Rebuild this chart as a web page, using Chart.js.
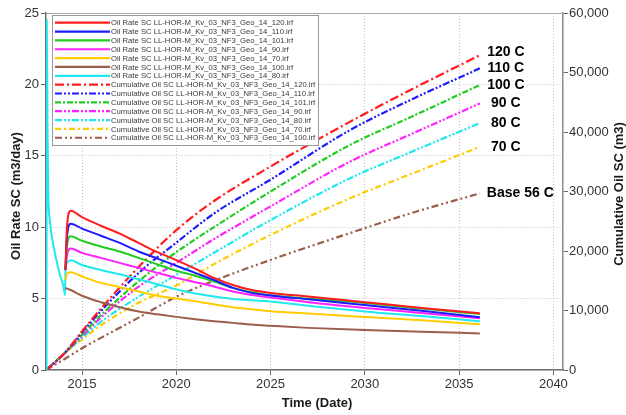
<!DOCTYPE html>
<html>
<head>
<meta charset="utf-8">
<title>Oil rate and cumulative oil by temperature case</title>
<style>
  html, body { margin: 0; padding: 0; background: #ffffff; }
  #wrap { width: 626px; height: 415px; position: relative; }
</style>
<script src="https://cdn.jsdelivr.net/npm/chart.js@4.4.1/dist/chart.umd.min.js"></script>
</head>
<body>
<div id="wrap"><canvas id="chart" width="626" height="415"></canvas></div>
<script>
// ---- Oil rate SC (m3/day) ----
// time steps (decimal years) shared by the rate curves after the 2014 restart
const rateYears = [2014.12, 2014.2, 2014.4, 2015, 2016, 2017, 2018, 2019, 2020, 2021, 2022, 2023, 2024, 2025, 2027, 2030, 2033, 2036.1];
const rate120 = [7.0, 10.0, 11.15, 10.7, 10.1, 9.55, 8.9, 8.25, 7.7, 7.1, 6.45, 5.95, 5.6, 5.4, 5.15, 4.75, 4.35, 3.98];
const rate110 = [7.0, 9.3, 10.25, 9.9, 9.4, 8.9, 8.3, 7.8, 7.3, 6.8, 6.3, 5.75, 5.4, 5.22, 4.95, 4.55, 4.15, 3.7];
const rate101 = [7.0, 8.7, 9.37, 9.05, 8.65, 8.3, 7.85, 7.4, 6.95, 6.6, 6.2, 5.75, 5.45, 5.24, 5.0, 4.7, 4.3, 3.92];
const rate90  = [7.0, 8.0, 8.5, 8.2, 7.85, 7.5, 7.15, 6.8, 6.45, 6.15, 5.85, 5.5, 5.25, 5.08, 4.75, 4.35, 4.0, 3.62];
const rate70  = [6.3, 6.75, 6.85, 6.55, 6.1, 5.8, 5.5, 5.2, 5.0, 4.82, 4.6, 4.4, 4.25, 4.12, 3.95, 3.72, 3.48, 3.2];
const rate100 = [5.75, 5.7, 5.6, 5.2, 4.75, 4.4, 4.1, 3.9, 3.72, 3.56, 3.42, 3.3, 3.18, 3.1, 2.95, 2.8, 2.68, 2.56];
const rate80  = [7.0, 7.5, 7.69, 7.35, 7.0, 6.7, 6.35, 6.0, 5.65, 5.35, 5.15, 4.98, 4.88, 4.8, 4.5, 4.1, 3.78, 3.42];
// initial flush period of the 80 case before the restart
const earlyYears80 = [2013.12, 2013.13, 2013.17, 2013.21, 2013.3, 2013.48, 2013.66, 2013.83, 2014.0, 2014.1];
const earlyRate80  = [0, 24.5, 17.0, 12.5, 10.4, 8.75, 7.6, 6.65, 5.95, 5.25];

// ---- Cumulative oil SC (m3) ----
const cumYears = [2013.1, 2014.1, 2015, 2016, 2018, 2020, 2022, 2025, 2029.2, 2032.5, 2036.1];
const cum120 = [0, 2900, 6500, 10300, 17300, 23500, 28400, 34200, 41700, 47200, 52900];
const cum110 = [0, 2900, 6300, 9900, 16300, 21400, 26300, 32000, 40300, 45500, 50700];
const cum101 = [0, 2900, 5900, 9200, 14900, 19800, 24000, 30000, 37800, 42600, 47900];
const cum90  = [0, 2900, 5700, 8800, 14000, 18000, 22000, 27500, 35000, 39700, 44800];
const cum80  = [0, 2900, 5400, 8100, 12300, 16000, 19700, 25200, 32200, 36700, 41500];
const cum70  = [0, 2900, 5100, 7500, 11300, 14200, 17800, 22700, 28850, 33000, 37500];
const cum100 = [0, 1900, 3650, 5400, 8800, 12300, 15000, 18500, 23000, 26400, 29700];

// ---- ticks and labels ----
const yearTicks = [2015, 2020, 2025, 2030, 2035, 2040];
const rateTicks = [0, 5, 10, 15, 20, 25];
const cumTicks = [0, 10000, 20000, 30000, 40000, 50000, 60000];
const cumEndLabels = ['120 C', '110 C', '100 C', '90 C', '80 C', '70 C', 'Base 56 C'];

const FONT = '"Liberation Sans", Arial, Helvetica, sans-serif';
const COLORS = {
  '120': '#ff1c1c', '110': '#1c1cff', '101': '#22cc22', '90': '#ff22ff',
  '70': '#ffcc00', '100': '#9a5e4a', '80': '#22e8ee'
};
const RATE_PREFIX = 'Oil Rate SC LL-HOR-M_Kv_03_NF3_Geo_14_';
const CUM_PREFIX = 'Cumulative Oil SC LL-HOR-M_Kv_03_NF3_Geo_14_';

function pts(xs, ys) { return xs.map((x, i) => ({ x: x, y: ys[i] })); }

const rateSeries = [
  ['120', rateYears, rate120],
  ['110', rateYears, rate110],
  ['101', rateYears, rate101],
  ['90', rateYears, rate90],
  ['70', rateYears, rate70],
  ['100', rateYears, rate100],
  ['80', earlyYears80.concat(rateYears), earlyRate80.concat(rate80)]
];
const cumSeries = [
  ['120', cum120, [9, 3, 2, 3]],
  ['110', cum110, [7, 2, 2, 2, 2, 2]],
  ['101', cum101, [6, 2, 2, 2]],
  ['90', cum90, [7, 2, 2, 2, 2, 2]],
  ['80', cum80, [7, 2, 2, 2, 2, 2]],
  ['70', cum70, [6, 3, 2, 3]],
  ['100', cum100, [7, 3, 2, 3, 2, 3]]
];

const datasets = [];
rateSeries.forEach(([id, xs, ys]) => {
  datasets.push({
    label: RATE_PREFIX + id + '.irf',
    data: pts(xs, ys),
    yAxisID: 'y',
    borderColor: COLORS[id],
    borderWidth: 2,
    borderDash: [],
    pointRadius: 0,
    cubicInterpolationMode: 'monotone',
    fill: false
  });
});
cumSeries.forEach(([id, ys, dash]) => {
  datasets.push({
    label: CUM_PREFIX + id + '.irf',
    data: pts(cumYears, ys),
    yAxisID: 'y1',
    borderColor: COLORS[id],
    borderWidth: 2.2,
    borderDash: dash,
    pointRadius: 0,
    cubicInterpolationMode: 'monotone',
    fill: false,
    isCumulative: true
  });
});

// legend box inside the plot, frame line, axis titles and case labels
const decorations = {
  id: 'decorations',
  afterDatasetsDraw(chart) {
    const ctx = chart.ctx;
    const a = chart.chartArea;
    ctx.save();

    // top frame line
    ctx.strokeStyle = '#a8a8a8';
    ctx.lineWidth = 1;
    ctx.beginPath();
    ctx.moveTo(a.left, a.top + 0.5);
    ctx.lineTo(a.right, a.top + 0.5);
    ctx.stroke();

    // case labels at the end of each cumulative curve
    ctx.fillStyle = '#000';
    ctx.font = 'bold 14px ' + FONT;
    ctx.textBaseline = 'middle';
    let k = 0;
    chart.data.datasets.forEach((ds, i) => {
      if (!ds.isCumulative) return;
      const pts = chart.getDatasetMeta(i).data;
      const end = pts[pts.length - 1];
      const text = cumEndLabels[k++];
      if (text.indexOf('Base') === 0) {
        ctx.textAlign = 'left';
        ctx.fillText(text, end.x + 7, end.y);
      } else {
        ctx.textAlign = 'center';
        ctx.fillText(text, end.x + 26, k === 1 ? end.y - 3 : end.y);
      }
    });

    // legend
    const lx = a.left + 6, ly = a.top + 2, lw = 266, lh = 130;
    ctx.fillStyle = '#ffffff';
    ctx.fillRect(lx, ly, lw, lh);
    ctx.strokeStyle = '#9a9a9a';
    ctx.lineWidth = 1;
    ctx.strokeRect(lx + 0.5, ly + 0.5, lw, lh);
    ctx.font = '7.7px ' + FONT;
    ctx.textAlign = 'left';
    ctx.textBaseline = 'middle';
    chart.data.datasets.forEach((ds, i) => {
      const y = ly + 7.7 + i * 8.85;
      ctx.strokeStyle = ds.borderColor;
      ctx.lineWidth = 2.2;
      ctx.setLineDash(ds.borderDash || []);
      ctx.beginPath();
      ctx.moveTo(lx + 3, y);
      ctx.lineTo(lx + 58, y);
      ctx.stroke();
      ctx.setLineDash([]);
      ctx.fillStyle = '#3a3a3a';
      ctx.fillText(ds.label, lx + 59, y + 0.5);
    });

    // axis titles
    ctx.fillStyle = '#1a1a1a';
    ctx.font = 'bold 13px ' + FONT;
    ctx.textAlign = 'center';
    ctx.textBaseline = 'middle';
    ctx.fillText('Time (Date)', a.left + 271, a.bottom + 33);

    ctx.save();
    ctx.translate(a.left - 30, a.top + 183);
    ctx.rotate(-Math.PI / 2);
    ctx.fillText('Oil Rate SC (m3/day)', 0, 0);
    ctx.restore();

    ctx.save();
    ctx.translate(a.right + 56, a.top + 181);
    ctx.rotate(-Math.PI / 2);
    ctx.fillText('Cumulative Oil SC (m3)', 0, 0);
    ctx.restore();

    ctx.restore();
  }
};

Chart.defaults.font.family = FONT;
Chart.defaults.color = '#333333';

new Chart(document.getElementById('chart'), {
  type: 'line',
  data: { datasets: datasets },
  options: {
    responsive: false,
    animation: false,
    parsing: true,
    layout: { padding: { top: 13, left: 0, right: 0, bottom: 0 } },
    plugins: { legend: { display: false }, tooltip: { enabled: false } },
    scales: {
      x: {
        type: 'linear',
        min: 2013.09,
        max: 2040.51,
        afterBuildTicks(scale) { scale.ticks = yearTicks.map(v => ({ value: v })); },
        afterFit(scale) { scale.height = 45; },
        ticks: {
          autoSkip: false,
          maxRotation: 0,
          padding: 2,
          font: { size: 13 },
          color: '#333333',
          callback: v => String(v)
        },
        grid: {
          color: '#c4c4c4',
          lineWidth: 1,
          tickColor: '#666666',
          tickLength: 5,
          tickBorderDash: []
        },
        border: { color: '#6e6e6e', width: 1.5, dash: [1, 2] }
      },
      y: {
        position: 'left',
        min: 0,
        max: 25,
        afterBuildTicks(scale) { scale.ticks = rateTicks.map(v => ({ value: v })); },
        afterFit(scale) { scale.width = 46; },
        ticks: { padding: 2, font: { size: 13 }, color: '#333333' },
        grid: {
          color: '#c4c4c4',
          lineWidth: 1,
          tickColor: '#666666',
          tickLength: 5,
          tickBorderDash: []
        },
        border: { color: '#6e6e6e', width: 1.5, dash: [1, 2] }
      },
      y1: {
        position: 'right',
        min: 0,
        max: 60000,
        afterBuildTicks(scale) { scale.ticks = cumTicks.map(v => ({ value: v })); },
        afterFit(scale) { scale.width = 63; },
        ticks: {
          padding: 1,
          font: { size: 13 },
          color: '#333333',
          callback: v => Number(v).toLocaleString('en-US')
        },
        grid: {
          drawOnChartArea: false,
          tickColor: '#666666',
          tickLength: 5
        },
        border: { color: '#8a8a8a', width: 1.5 }
      }
    }
  },
  plugins: [decorations]
});
</script>
</body>
</html>
